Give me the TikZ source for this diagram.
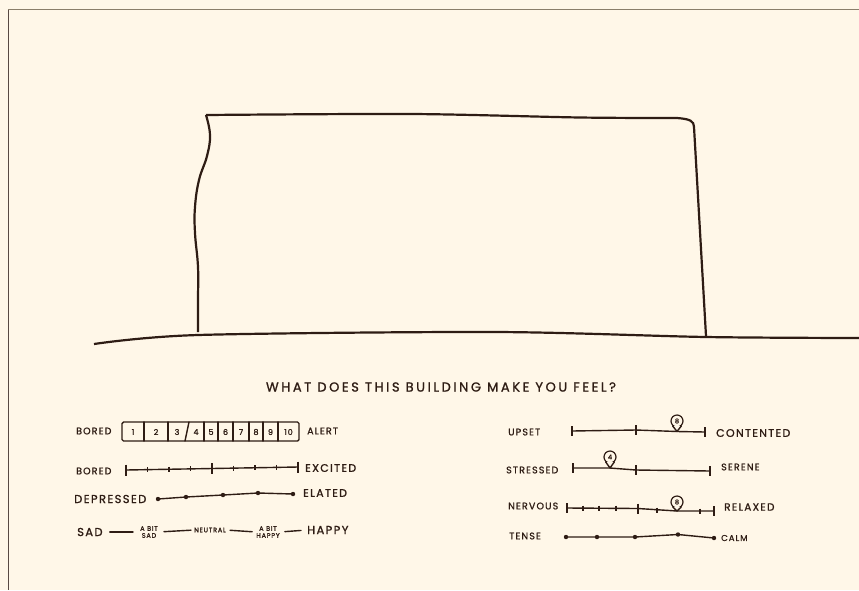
\documentclass[tikz,border=0pt]{standalone}
\usepackage{fontspec}
\usepackage{tikz}
\usetikzlibrary{calc}
\newfontfamily\hand[LetterSpace=12,FakeBold=1.2]{Poppins}
\newfontfamily\handwide[LetterSpace=20,FakeBold=1.2]{Poppins}
\definecolor{paper}{RGB}{255,247,232}
\definecolor{ink}{RGB}{46,28,20}
\definecolor{edgegrey}{RGB}{138,126,106}
\tikzset{
  hand/.style={font=\hand\fontsize{9.5}{10}\selectfont,text=ink,inner sep=0pt},
  bighand/.style={hand,font=\hand\fontsize{11.5}{12}\selectfont},
  smallhand/.style={hand,font=\hand\fontsize{6.5}{7}\selectfont,align=center},
  scaleline/.style={draw=ink,line width=1.4pt,line cap=round,line join=round},
  bigtick/.style={draw=ink,line width=1.3pt},
  dotmark/.style={circle,fill=ink,inner sep=0pt,minimum size=4.4pt},
  pinhead/.style={circle,draw=ink,line width=1.2pt,fill=paper,inner sep=0pt,
    minimum size=12pt,font=\hand\fontsize{6.5}{6.5}\selectfont,text=ink},
}

\begin{document}
\begin{tikzpicture}[x=1pt,y=-1pt]
  \useasboundingbox (0,0) rectangle (859,590);
  \fill[paper] (0,0) rectangle (859,590);
  % page edges
  \draw[edgegrey,line width=1.8pt] (8,9.5) -- (859,9.5);
  \draw[ink!80,line width=0.9pt] (8,9.5) -- (8,590);

  % building and ground
  \draw[ink,line width=2.2pt,line join=round]
    plot[smooth,tension=0.7] coordinates {(198,332) (198,300) (198,267) (195,233)
      (195,207) (199,180) (207,156) (210,135) (206,115)}
    plot[smooth,tension=0.5] coordinates {(206,115) (412,114) (580,117.5) (677,118)}
    .. controls (690,119) and (694,121) .. (694,127) -- (706,336);
  \draw[ink,line width=2.2pt]
    plot[smooth,tension=0.5] coordinates {(94,344) (198,335) (495,332) (706,337) (859,338)};

  \node[hand,font=\handwide\fontsize{13}{14}\selectfont] (title) at (441,387)
    {WHAT DOES THIS BUILDING MAKE YOU FEEL?};

  % left column
  \node[hand,anchor=west] (bored) at (76,431) {BORED};
  \draw[scaleline,rounded corners=1.5pt] (122,422) rectangle (299,441);
  \foreach \x in {144,168,204,218,233,249,263,278}
    \draw[scaleline] (\x,422) -- (\x,441);
  \draw[scaleline] (189,422) -- (185,441);
  \foreach \x/\n in {133/1,156/2,177/3,196/4,211/5,225.5/6,241/7,256/8,270.5/9,288.5/10}
    \node[hand,font=\hand\fontsize{8}{8}\selectfont] (cell\n) at (\x,432) {\n};
  \node[hand,anchor=west] (alert) at (307,431) {ALERT};

  \node[hand,anchor=west] (bored2) at (76,471) {BORED};
  \coordinate (ex0) at (126,470);
  \coordinate (ex1) at (298,467);
  \draw[scaleline] (ex0) -- (ex1);
  \foreach \t in {0,0.5,1}
    \draw[bigtick] ($(ex0)!\t!(ex1)$) +(0,-5.5) -- +(0,5.5);
  \foreach \t in {0.125,0.25,0.375,0.625,0.75,0.875}
    \draw[bigtick] ($(ex0)!\t!(ex1)$) +(0,-2.5) -- +(0,2.5);
  \node[hand,anchor=west,font=\hand\fontsize{11}{12}\selectfont] (excited) at (305,468) {EXCITED};

  \node[bighand,anchor=west] (depressed) at (74,499) {DEPRESSED};
  \foreach \i/\x/\y in {1/158/499,2/186/497,3/223/495,4/258/493,5/293/494}
    \node[dotmark] (dp\i) at (\x,\y) {};
  \draw[scaleline] (dp1.center) -- (dp2.center) -- (dp3.center) -- (dp4.center) -- (dp5.center);
  \node[hand,anchor=west,font=\hand\fontsize{11}{12}\selectfont] (elated) at (303,493) {ELATED};

  \node[bighand,anchor=west] (sad) at (77,532) {SAD};
  \node[smallhand] (abitsad) at (149,532) {A BIT\\SAD};
  \node[smallhand] (neutral) at (210,530) {NEUTRAL};
  \node[smallhand] (abithappy) at (268,532) {A BIT\\HAPPY};
  \node[bighand,anchor=west] (happy) at (307,530) {HAPPY};
  \draw[scaleline,shorten <=7pt,shorten >=7pt] (sad.east) -- (abitsad.west);
  \draw[scaleline,shorten <=6pt,shorten >=3pt] (abitsad.east) -- (neutral.west);
  \draw[scaleline,shorten <=4pt,shorten >=4pt] (neutral.east) -- (abithappy.west);
  \draw[scaleline,shorten <=5pt,shorten >=6pt] (abithappy.east) -- (happy.west);

  % right column
  \node[hand,anchor=west] (upset) at (508,432) {UPSET};
  \coordinate (up0) at (572,431);
  \coordinate (up1) at (636,430);
  \coordinate (up2) at (677,431.5);
  \coordinate (up3) at (705,432);
  \draw[scaleline] (up0) -- (up1) -- (up2) -- (up3);
  \foreach \c in {up0,up1,up3}
    \draw[bigtick] (\c) +(0,-5) -- +(0,5);
  \node[pinhead] (pinup) at (677,421) {8};
  \draw[scaleline,fill=paper] (pinup.-130) -- (up2) -- (pinup.-50);
  \node[hand,anchor=west,font=\hand\fontsize{11}{12}\selectfont] (contented) at (716,433) {CONTENTED};

  \node[hand,anchor=west] (stressed) at (506,470) {STRESSED};
  \coordinate (st0) at (573,468);
  \coordinate (st1) at (610,468);
  \coordinate (st2) at (636,470);
  \coordinate (st3) at (710,471);
  \draw[scaleline] (st0) -- (st1) -- (st2) -- (st3);
  \foreach \c in {st0,st2,st3}
    \draw[bigtick] (\c) +(0,-5) -- +(0,5);
  \node[pinhead] (pinst) at (610,457) {4};
  \draw[scaleline,fill=paper] (pinst.-130) -- (st1) -- (pinst.-50);
  \node[hand,anchor=west] (serene) at (721,467) {SERENE};

  \node[hand,anchor=west] (nervous) at (508,506) {NERVOUS};
  \coordinate (nv0) at (567,508);
  \coordinate (nv1) at (638,508.5);
  \coordinate (nv2) at (677,511);
  \coordinate (nv3) at (714,511);
  \draw[scaleline] (nv0) -- (nv1) -- (nv2) -- (nv3);
  \foreach \c in {nv0,nv1,nv3}
    \draw[bigtick] (\c) +(0,-5) -- +(0,5);
  \foreach \x/\y in {583/508,599/508,616/508,657/510,700/511}
    \draw[bigtick] (\x,\y) +(0,-2.5) -- +(0,2.5);
  \node[pinhead] (pinnv) at (677,502) {8};
  \draw[scaleline,fill=paper] (pinnv.-130) -- (nv2) -- (pinnv.-50);
  \node[hand,anchor=west,font=\hand\fontsize{10.5}{11}\selectfont] (relaxed) at (724,507) {RELAXED};

  \node[hand,anchor=west] (tense) at (509,536) {TENSE};
  \foreach \i/\x/\y in {1/566/537,2/597/537,3/635/537,4/678/534.5,5/714/538}
    \node[dotmark] (tn\i) at (\x,\y) {};
  \draw[scaleline] (tn1.center) -- (tn2.center) -- (tn3.center) -- (tn4.center) -- (tn5.center);
  \node[hand,anchor=west,font=\hand\fontsize{8.5}{9}\selectfont] (calm) at (721,538) {CALM};
\end{tikzpicture}
\end{document}
